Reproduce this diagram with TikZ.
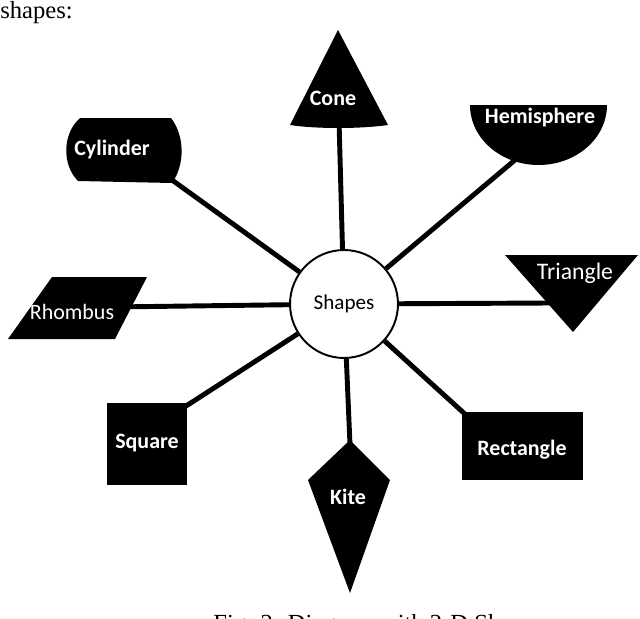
\documentclass[tikz,border=0pt]{standalone}
\usepackage{fontspec}
\setmainfont{Liberation Serif}
\newfontfamily\carlito{Carlito}
\usetikzlibrary{positioning,calc}

\begin{document}
\begin{tikzpicture}[x=0.02cm,y=-0.02cm,
    link/.style={line width=2.8pt},
    shapelabel/.style={text=white,inner sep=0pt,font=\carlito\bfseries\fontsize{12.5}{15}\selectfont},
    thinlabel/.style={shapelabel,font=\carlito\fontsize{12.5}{15}\selectfont}]
  \useasboundingbox (0,0) rectangle (640,619);

  \node[anchor=base west,inner sep=0pt,font=\fontsize{14}{17}\selectfont] (intro) at (0,18) {shapes:};

  \node[circle,draw,line width=1.1pt,fill=white,minimum size=2.16cm,inner sep=0pt,
    font=\carlito\fontsize{12}{14}\selectfont] (hub) at (344,304) {Shapes};

  % connector ends, hidden inside the black shapes
  \coordinate (coneEnd) at (339,120);
  \coordinate (hemiEnd) at (515,160);
  \coordinate (cylEnd) at (172,180);
  \coordinate (rhombEnd) at (112,307);
  \coordinate (triEnd) at (550,303);
  \coordinate (squareEnd) at (183,408);
  \coordinate (rectEnd) at (466,415);
  \coordinate (kiteEnd) at (350,445);
  \foreach \e in {coneEnd,hemiEnd,cylEnd,rhombEnd,triEnd,squareEnd,rectEnd,kiteEnd}
    \draw[link] (\e) -- (hub);

  % the shapes
  \fill (338,30) -- (388,125) .. controls (360,129) and (316,129) .. (290,125) -- cycle;
  \fill (470,105) -- (607,105) arc[start angle=0,end angle=180,x radius=68.5,y radius=60] -- cycle;
  \fill (80,118) -- (171,118) .. controls (185,136) and (185,165) .. (172,183)
    -- (78,181) .. controls (62,165) and (62,134) .. cycle;
  \fill (52,277) -- (147,277) -- (115,339) -- (8,339) -- cycle;
  \fill (505,255) -- (638,255) -- (573,332) -- cycle;
  \fill (107,403) rectangle (187,485);
  \fill (462,412) rectangle (583,480);
  \fill (350,440) -- (390,480) -- (350,593) -- (308,480) -- cycle;

  \node[shapelabel] (cone) at (333,98) {Cone};
  \node[shapelabel] (hemisphere) at (540,118) {Hemisphere};
  \node[shapelabel] (cylinder) at (112,150) {Cylinder};
  \node[thinlabel] (rhombus) at (72,312) {Rhombus};
  \node[thinlabel,font=\carlito\fontsize{13.5}{16}\selectfont] (triangle) at (575,273) {Triangle};
  \node[shapelabel] (square) at (147,443) {Square};
  \node[shapelabel] (rectangle) at (522,450) {Rectangle};
  \node[shapelabel] (kite) at (348,497) {Kite};

  \node[anchor=base west,inner sep=0pt,font=\fontsize{14}{17}\selectfont] (caption) at (213,631)
    {Fig. 2: Diagram with 2-D Shapes};
\end{tikzpicture}
\end{document}
